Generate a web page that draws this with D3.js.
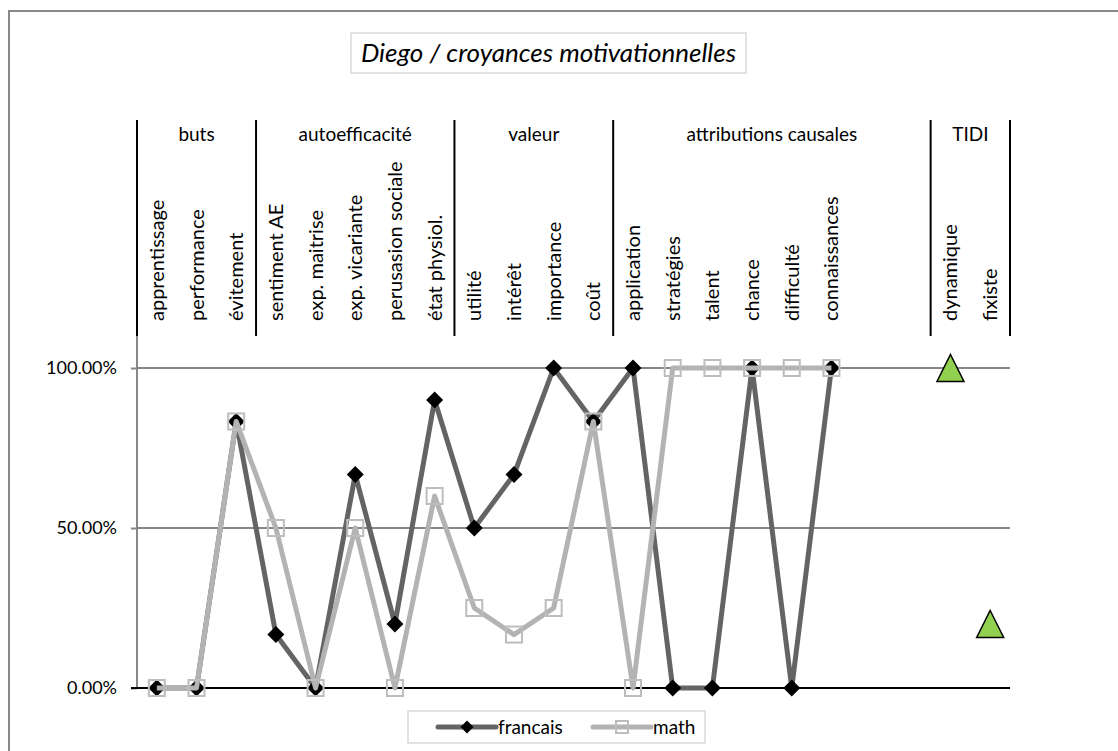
<!DOCTYPE html>
<html>
<head>
<meta charset="utf-8">
<script src="https://cdn.jsdelivr.net/npm/d3@7"></script>
<style>
  html, body { margin: 0; padding: 0; background: #fff; }
  svg { display: block; font-family: Lato, "Open Sans", sans-serif; }
</style>
</head>
<body>
<svg id="chart" width="1118" height="751"></svg>
<script>
// ---- data ----
const title = "Diego / croyances motivationnelles";
const categories = ["apprentissage","performance","évitement","sentiment AE","exp. maitrise","exp. vicariante","perusasion sociale","état physiol.","utilité","intérêt","importance","coût","application","stratégies","talent","chance","difficulté","connaissances","","","dynamique","fixiste"];
const groupNames = ["buts","autoefficacité","valeur","attributions causales","TIDI"];
const groupSizes = [3,5,4,8,2];
const francais = [0,0,0.833,0.167,0,0.667,0.2,0.9,0.5,0.667,1,0.833,1,0,0,1,0,1,null,null,null,null];
const math     = [0,0,0.833,0.5,0,0.5,0,0.6,0.25,0.167,0.25,0.833,0,1,1,1,1,1,null,null,null,null];
const tidi     = [null,null,null,null,null,null,null,null,null,null,null,null,null,null,null,null,null,null,null,null,1,0.2];
const yTicks = [0, 0.5, 1];
const seriesNames = ["francais","math"];

// ---- layout ----
const svg = d3.select("#chart");
const left = 137, right = 1010, yBottom = 688, yTop = 336;
const headerTop = 120;

const x = d3.scaleBand().domain(d3.range(categories.length)).range([left, right]).padding(0);
const y = d3.scaleLinear().domain([0, 1.1]).range([yBottom, yTop]);
const cx = i => x(i) + x.bandwidth() / 2;

// outer frame
svg.append("rect").attr("x", 9).attr("y", 11).attr("width", 1130).attr("height", 780)
  .attr("fill", "#fff").attr("stroke", "#898989").attr("stroke-width", 2);

// title
const tg = svg.append("g");
tg.append("rect").attr("x", 351).attr("y", 33).attr("width", 395).attr("height", 40)
  .attr("fill", "#fff").attr("stroke", "#d9d9d9").attr("stroke-width", 1.5);
tg.append("text").attr("x", 548.5).attr("y", 62).attr("text-anchor", "middle")
  .attr("font-style", "italic").attr("font-size", 26).attr("fill", "#000").text(title);

// gridlines
const yAxis = d3.axisLeft(y).tickValues(yTicks).tickFormat(d3.format(".2%")).tickSize(6);
const ga = svg.append("g").attr("transform", `translate(${left},0)`).call(yAxis);
ga.select(".domain").remove();
ga.selectAll(".tick line").attr("stroke", "#868686").attr("stroke-width", 2);
ga.selectAll(".tick text").attr("x", -20).attr("font-size", 18).attr("fill", "#000")
  .attr("font-family", "Lato, sans-serif");

svg.append("g").selectAll("line").data(yTicks.filter(d => d > 0)).join("line")
  .attr("x1", left).attr("x2", right).attr("y1", d => y(d)).attr("y2", d => y(d))
  .attr("stroke", "#868686").attr("stroke-width", 2);

// y axis line
svg.append("line").attr("x1", left).attr("x2", left).attr("y1", yTop).attr("y2", yBottom)
  .attr("stroke", "#868686").attr("stroke-width", 2);
// zero axis
svg.append("line").attr("x1", left - 6).attr("x2", right).attr("y1", y(0)).attr("y2", y(0))
  .attr("stroke", "#000").attr("stroke-width", 2);

// header: group separators and names
let start = 0;
const bounds = [0];
groupSizes.forEach(s => { start += s; bounds.push(start); });
const hx = i => (i < categories.length ? x(i) : right);
svg.append("g").selectAll("line").data(bounds).join("line")
  .attr("x1", d => hx(d)).attr("x2", d => hx(d)).attr("y1", headerTop).attr("y2", yTop)
  .attr("stroke", "#000").attr("stroke-width", 2);
svg.append("g").selectAll("text").data(groupNames).join("text")
  .attr("x", (d, i) => (hx(bounds[i]) + hx(bounds[i + 1])) / 2)
  .attr("y", 141).attr("text-anchor", "middle").attr("font-size", 19).attr("fill", "#000")
  .text(d => d);

// category labels (rotated)
svg.append("g").selectAll("text").data(categories).join("text")
  .attr("transform", (d, i) => `translate(${cx(i)},321) rotate(-90)`)
  .attr("dy", "0.35em").attr("text-anchor", "start").attr("font-size", 20).attr("fill", "#000")
  .text(d => d);

// lines
const lineGen = d3.line().defined(d => d.v !== null).x(d => cx(d.i)).y(d => y(d.v));
const fr = francais.map((v, i) => ({ v, i }));
const ma = math.map((v, i) => ({ v, i }));
const diamond = s => `M0,${-s}L${s},0L0,${s}L${-s},0Z`;

svg.append("path").datum(fr).attr("d", lineGen).attr("fill", "none")
  .attr("stroke", "#646464").attr("stroke-width", 5).attr("stroke-linejoin", "round");
svg.append("g").selectAll("path").data(fr.filter(d => d.v !== null)).join("path")
  .attr("transform", d => `translate(${cx(d.i)},${y(d.v)})`).attr("d", diamond(8.5)).attr("fill", "#000");

svg.append("path").datum(ma).attr("d", lineGen).attr("fill", "none")
  .attr("stroke", "#b3b3b3").attr("stroke-width", 5).attr("stroke-linejoin", "round");
svg.append("g").selectAll("rect").data(ma.filter(d => d.v !== null)).join("rect")
  .attr("x", d => cx(d.i) - 8).attr("y", d => y(d.v) - 8).attr("width", 16).attr("height", 16)
  .attr("fill", "none").attr("stroke", "#bdbdbd").attr("stroke-width", 2);

// TIDI triangles
const tri = "M0,-13.5L13.5,13.5L-13.5,13.5Z";
svg.append("g").selectAll("path").data(tidi.map((v, i) => ({ v, i })).filter(d => d.v !== null)).join("path")
  .attr("transform", d => `translate(${cx(d.i)},${y(d.v)})`).attr("d", tri)
  .attr("fill", "#92d050").attr("stroke", "#000").attr("stroke-width", 1.5);

// legend
const lg = svg.append("g");
lg.append("rect").attr("x", 408).attr("y", 711).attr("width", 297).attr("height", 32)
  .attr("fill", "#fff").attr("stroke", "#d9d9d9").attr("stroke-width", 1.5);
const legendX = [438, 593];
seriesNames.forEach((name, k) => {
  const x0 = legendX[k], ly = 727;
  lg.append("line").attr("x1", x0).attr("x2", x0 + 58).attr("y1", ly).attr("y2", ly)
    .attr("stroke", k === 0 ? "#646464" : "#b3b3b3").attr("stroke-width", 5).attr("stroke-linecap", "round");
  if (k === 0) {
    lg.append("path").attr("transform", `translate(${x0 + 29},${ly})`).attr("d", diamond(6.5)).attr("fill", "#000");
  } else {
    lg.append("rect").attr("x", x0 + 23).attr("y", ly - 6).attr("width", 12).attr("height", 12)
      .attr("fill", "none").attr("stroke", "#bdbdbd").attr("stroke-width", 2);
  }
  lg.append("text").attr("x", x0 + 60).attr("y", ly).attr("dy", "0.35em")
    .attr("font-size", 19).attr("fill", "#000").text(name);
});
</script>
</body>
</html>
